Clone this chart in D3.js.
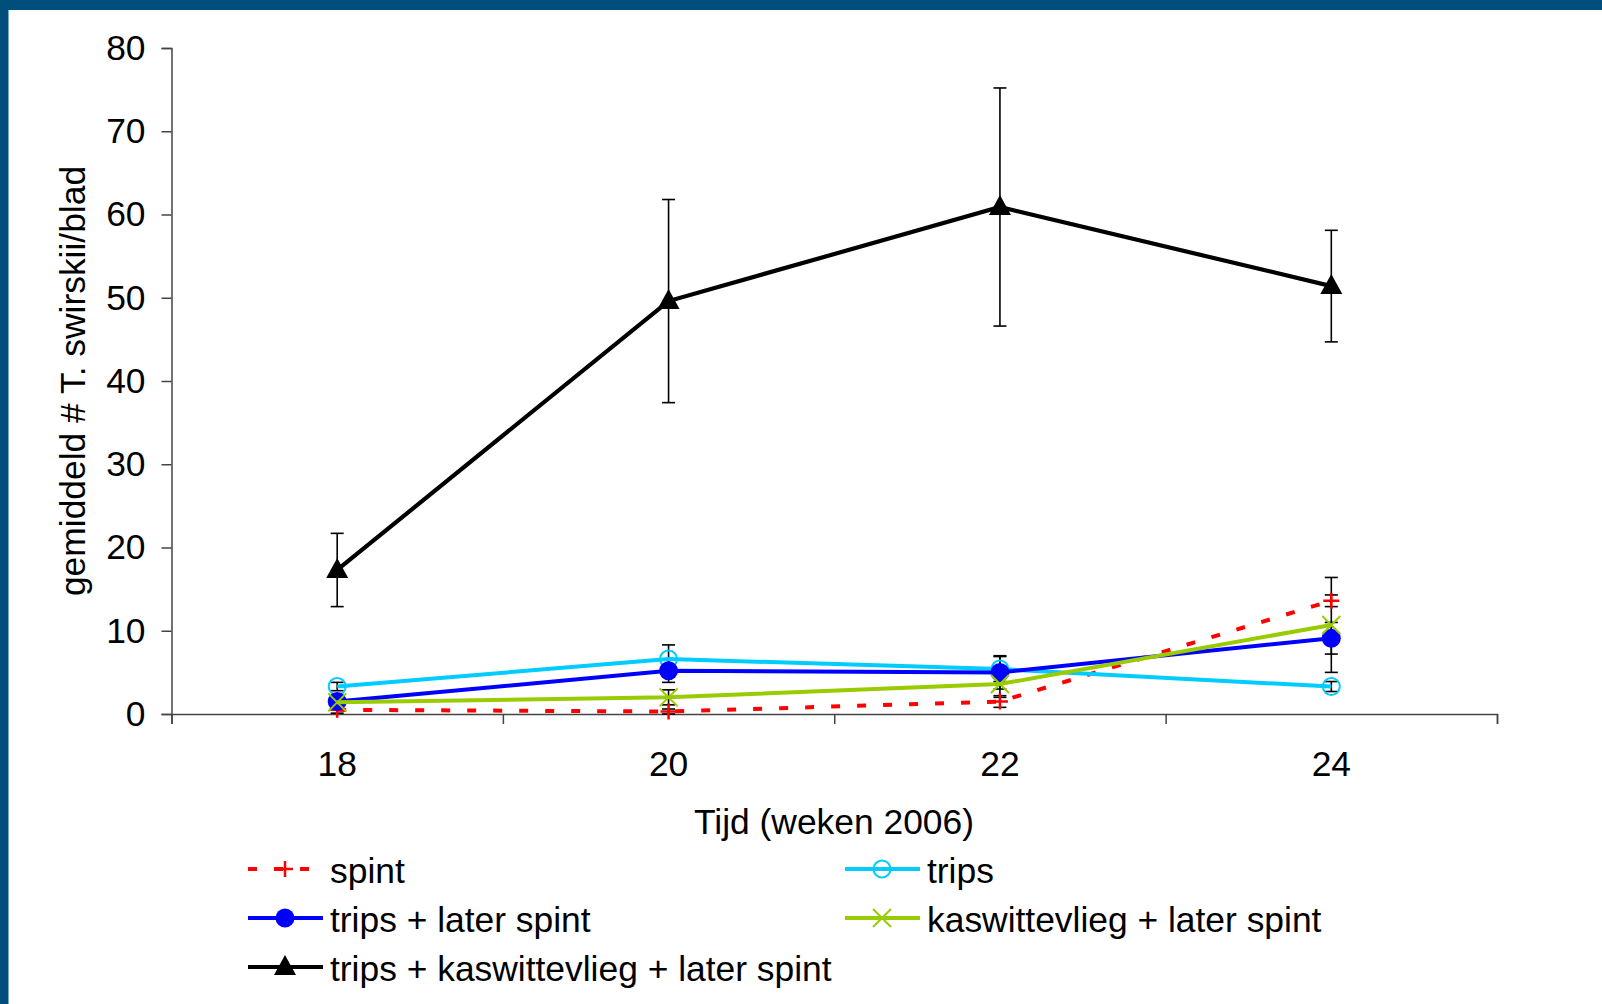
<!DOCTYPE html>
<html>
<head>
<meta charset="utf-8">
<script src="https://cdn.jsdelivr.net/npm/d3@7"></script>
<style>
  html, body { margin: 0; padding: 0; background: #ffffff; }
  svg { display: block; }
  text { font-family: "Liberation Sans", Arial, sans-serif; fill: #000; }
</style>
</head>
<body>
<script>
// Weeks of 2006 on which leaves were sampled
const weeks = [18, 20, 22, 24];
const xTicks = [17, 19, 21, 23, 25];
const yTicks = [0, 10, 20, 30, 40, 50, 60, 70, 80];

// Mean number of T. swirskii per leaf, with standard error
const spint = [0.5, 0.3, 1.5, 13.6];
const spintErr = [0.4, 0.3, 0.7, 0.7];
const trips = [3.3, 6.6, 5.4, 3.3];
const tripsErr = [0.5, 1.7, 1.5, 0.6];
const tripsLaterSpint = [1.5, 5.2, 5.0, 9.1];
const tripsLaterSpintErr = [0.6, 1.4, 2.0, 1.9];
const kasLaterSpint = [1.4, 2.0, 3.6, 10.7];
const kasLaterSpintErr = [0.4, 0.9, 1.6, 5.7];
const tripsKasLaterSpint = [17.3, 49.6, 60.9, 51.4];
const tripsKasLaterSpintErr = [4.4, 12.2, 14.3, 6.7];

const seriesNames = [
  "spint",
  "trips",
  "trips + later spint",
  "kaswittevlieg + later spint",
  "trips + kaswittevlieg + later spint"
];

const series = [
  { name: seriesNames[0], values: spint, err: spintErr, color: "#ff0000", marker: "plus", dash: "9,17" },
  { name: seriesNames[1], values: trips, err: tripsErr, color: "#00ccff", marker: "ocircle", dash: null },
  { name: seriesNames[2], values: tripsLaterSpint, err: tripsLaterSpintErr, color: "#0000ff", marker: "circle", dash: null },
  { name: seriesNames[3], values: kasLaterSpint, err: kasLaterSpintErr, color: "#99cc00", marker: "cross", dash: null },
  { name: seriesNames[4], values: tripsKasLaterSpint, err: tripsKasLaterSpintErr, color: "#000000", marker: "triangle", dash: null }
];

const W = 1602, H = 1004;
const FONT = "35.4px";
const svg = d3.select("body").append("svg").attr("width", W).attr("height", H);

// slide frame
svg.append("rect").attr("x", 0).attr("y", 0).attr("width", W).attr("height", H).attr("fill", "#ffffff");
svg.append("rect").attr("x", 0).attr("y", 0).attr("width", W).attr("height", 10).attr("fill", "#004e7c");
svg.append("rect").attr("x", 0).attr("y", 0).attr("width", 8.5).attr("height", H).attr("fill", "#004e7c");

const x = d3.scaleLinear().domain([17, 25]).range([171.5, 1497]);
const y = d3.scaleLinear().domain([0, 80]).range([714, 48]);

// y axis
const yAxis = svg.append("g").attr("transform", `translate(${x(17)},0)`)
  .call(d3.axisLeft(y).tickValues(yTicks).tickSize(10).tickPadding(16).tickFormat(d3.format("d")));
yAxis.select(".domain").attr("stroke", "#444").attr("stroke-width", 1.5);
yAxis.selectAll(".tick line").attr("stroke", "#444").attr("stroke-width", 1.5);
yAxis.selectAll(".tick text").style("font-size", FONT).style("font-family", "Liberation Sans, Arial, sans-serif");

// x axis: ticks between sample weeks, labels on the weeks
const xAxis = svg.append("g").attr("transform", `translate(0,${y(0)})`)
  .call(d3.axisBottom(x).tickValues(xTicks).tickSize(10).tickFormat(""));
xAxis.select(".domain").attr("stroke", "#444").attr("stroke-width", 1.5);
xAxis.selectAll(".tick line").attr("stroke", "#444").attr("stroke-width", 1.5);

svg.append("g").selectAll("text").data(weeks).join("text")
  .attr("x", d => x(d)).attr("y", y(0) + 62)
  .attr("text-anchor", "middle").style("font-size", FONT)
  .text(d => d);

// axis titles
svg.append("text").attr("x", 834).attr("y", 834)
  .attr("text-anchor", "middle").style("font-size", FONT)
  .text("Tijd (weken 2006)");
svg.append("text")
  .attr("transform", `translate(85,${(y(0) + y(80)) / 2}) rotate(-90)`)
  .attr("text-anchor", "middle").style("font-size", FONT)
  .text("gemiddeld # T. swirskii/blad");

// marker drawing
function drawMarker(g, type, color, cx, cy) {
  if (type === "plus") {
    g.append("path").attr("d", `M${cx - 8},${cy}H${cx + 8}M${cx},${cy - 8}V${cy + 8}`)
      .attr("stroke", color).attr("stroke-width", 2.5).attr("fill", "none");
  } else if (type === "ocircle") {
    g.append("circle").attr("cx", cx).attr("cy", cy).attr("r", 8.5)
      .attr("fill", "none").attr("stroke", color).attr("stroke-width", 2);
  } else if (type === "circle") {
    g.append("circle").attr("cx", cx).attr("cy", cy).attr("r", 9.5).attr("fill", color);
  } else if (type === "cross") {
    g.append("path").attr("d", `M${cx - 9},${cy - 9}L${cx + 9},${cy + 9}M${cx - 9},${cy + 9}L${cx + 9},${cy - 9}`)
      .attr("stroke", color).attr("stroke-width", 2).attr("fill", "none");
  } else if (type === "triangle") {
    g.append("path").attr("d", `M${cx},${cy - 12}L${cx + 11},${cy + 8}L${cx - 11},${cy + 8}Z`).attr("fill", color);
  }
}

// error bars
const errG = svg.append("g");
series.forEach(s => {
  s.values.forEach((v, i) => {
    const cx = x(weeks[i]);
    const y1 = y(v + s.err[i]), y2 = y(Math.max(0, v - s.err[i]));
    errG.append("line").attr("x1", cx).attr("x2", cx).attr("y1", y1).attr("y2", y2)
      .attr("stroke", "#000").attr("stroke-width", 1.6);
    [y1, y2].forEach(yy => errG.append("line").attr("x1", cx - 6.5).attr("x2", cx + 6.5)
      .attr("y1", yy).attr("y2", yy).attr("stroke", "#000").attr("stroke-width", 1.6));
  });
});

// series lines and markers
const line = d3.line().x((d, i) => x(weeks[i])).y(d => y(d));
series.forEach(s => {
  const g = svg.append("g");
  g.append("path").datum(s.values).attr("d", line)
    .attr("fill", "none").attr("stroke", s.color).attr("stroke-width", s.marker === "triangle" ? 4.2 : 4)
    .attr("stroke-dasharray", s.dash);
  s.values.forEach((v, i) => drawMarker(g, s.marker, s.color, x(weeks[i]), y(v)));
});

// legend: two columns, filled row by row
const legendPos = [
  { lx: 248, ly: 869 }, { lx: 845, ly: 869 },
  { lx: 248, ly: 918 }, { lx: 845, ly: 918 },
  { lx: 248, ly: 967 }
];
series.forEach((s, i) => {
  const p = legendPos[i];
  const g = svg.append("g");
  g.append("line").attr("x1", p.lx).attr("x2", p.lx + 75).attr("y1", p.ly).attr("y2", p.ly)
    .attr("stroke", s.color).attr("stroke-width", 4).attr("stroke-dasharray", s.dash);
  drawMarker(g, s.marker, s.color, p.lx + 37, p.ly);
  g.append("text").attr("x", p.lx + 82).attr("y", p.ly + 13.5)
    .style("font-size", FONT).text(s.name);
});
</script>
</body>
</html>
